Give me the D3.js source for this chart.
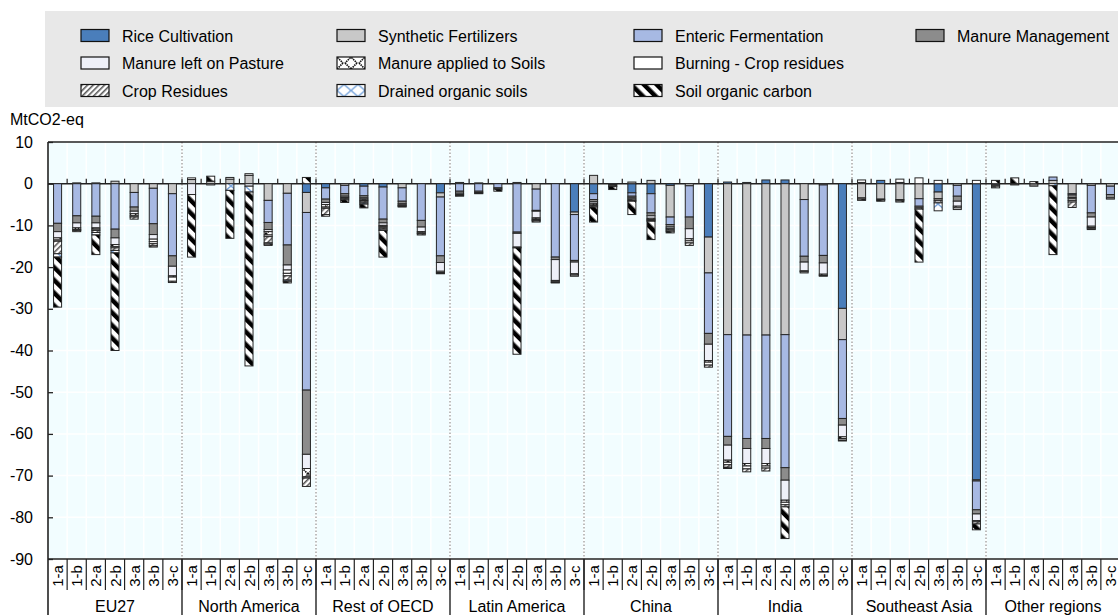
<!DOCTYPE html>
<html>
<head>
<meta charset="utf-8">
<script src="https://cdn.jsdelivr.net/npm/d3@7"></script>
<style>
  body { margin: 0; background: #fff; }
  text { font-family: "Liberation Sans", Arial, sans-serif; fill: #000; }
</style>
</head>
<body>
<svg id="chart" width="1118" height="615"></svg>
<script>
// categories
const regions = ["EU27", "North America", "Rest of OECD", "Latin America", "China", "India", "Southeast Asia", "Other regions"];
const scenarios = ["1-a", "1-b", "2-a", "2-b", "3-a", "3-b", "3-c"];
const yTicks = [10, 0, -10, -20, -30, -40, -50, -60, -70, -80, -90];

// values, MtCO2-eq, one line per region (1-a ... 3-c)
const riceCultivation = [
  0, 0, 0, 0, 0, 0, 0,
  0, 0, 0, 0, 0, 0, -2.1,
  -1.0, 0, -0.6, -0.8, 0, 0, -2.2,
  0, 0, 0, 0, 0, 0, -6.8,
  -2.4, 0, -2.2, -2.4, -0.4, 0, -12.8,
  0.4, 0.3, 0.9, 0.9, 0, 0, -29.9,
  0.3, 0.8, 0.3, 0, -2.0, 0, -71.0,
  0, 0, 0, 0, 0, 0, 0
];
const syntheticFertilizers = [
  0, 0.2, 0.2, 0.6, -2.1, -1.1, -2.4,
  1.0, 0.6, 1.1, 2.0, -4.0, -2.3, -4.8,
  0, -0.4, 0, 0, -1.0, 0, -1.0,
  0.3, 0.2, 0, 0.3, -1.3, 0, -0.6,
  2.0, 0, 0.4, 0.8, -7.6, -0.5, -8.6,
  -36.2, -36.3, -36.3, -36.2, -3.8, -0.3, -7.5,
  -3.4, -3.7, -3.8, -3.6, -1.6, -0.4, -0.3,
  0, 0, 0, 0.8, -2.4, -0.4, -0.6
];
const entericFermentation = [
  -9.5, -7.7, -7.8, -10.9, -3.5, -8.5, -14.9,
  0, 0, 0, 0, -5.3, -12.4, -42.6,
  -2.7, -2.0, -2.3, -7.7, -3.2, -8.8, -14.1,
  -1.8, -1.8, -1.0, -11.6, -5.1, -17.6, -11.0,
  -1.4, -0.2, -0.8, -4.6, -1.8, -7.5, -14.5,
  -24.4, -24.8, -24.8, -31.9, -13.6, -16.9, -18.9,
  0, 0, 0, -1.8, 0, -2.6, -6.9,
  -0.3, 0, 0, 0.8, -0.3, -6.6, -2.0
];
const manureManagement = [
  -2.0, -1.7, -1.6, -2.1, -1.0, -2.6, -2.5,
  0, 0, 0, 0, -1.7, -4.8, -15.4,
  -0.8, -0.6, -0.5, -0.9, -0.6, -1.6, -1.6,
  -0.5, -0.3, -0.3, -0.3, -0.2, -0.6, -0.4,
  -0.5, -0.3, -0.4, -0.7, -0.6, -2.8, -2.6,
  -2.1, -2.4, -2.4, -3.0, -1.4, -1.8, -1.6,
  0, 0, 0, -0.4, -0.5, -1.2, -1.0,
  -0.3, -0.3, -0.6, 0, -0.6, -1.0, -0.8
];
const manurePasture = [
  -1.5, -1.2, -1.2, -1.6, -0.6, -1.1, -2.3,
  -2.6, -0.3, 0, -0.6, -0.5, -1.2, -3.4,
  -0.5, -0.3, -0.3, -0.6, -0.3, -1.1, -2.1,
  -0.3, -0.2, 0, -3.3, -1.6, -5.0, -2.8,
  -0.4, 0, -0.3, -0.6, -0.4, -2.4, -3.9,
  -3.6, -3.6, -3.6, -4.8, -2.1, -2.7, -2.8,
  0, 0, 0, 0, 0, -1.2, -1.6,
  0, 0, 0, 0, -0.3, -2.2, -0.3
];
const manureSoils = [
  -0.5, -0.4, -0.3, -0.5, -0.5, -0.6, -0.3,
  0, 0, 0, 0, -0.8, -0.8, -2.0,
  -0.6, -0.3, -0.3, -0.3, -0.2, -0.3, -0.3,
  -0.2, -0.1, 0, -0.2, -0.3, -0.3, -0.3,
  -0.4, -0.2, -0.3, -0.3, -0.3, -0.5, -0.4,
  -0.5, -0.6, -0.6, -0.5, -0.2, -0.3, -0.4,
  -0.3, -0.2, -0.3, -0.3, -0.5, -0.4, -0.3,
  -0.4, 0, 0, 0, -0.4, -0.3, 0
];
const burningResidues = [
  -0.3, -0.2, -0.3, -0.3, -0.3, -0.5, -1.0,
  0.4, 0, 0.4, 0.4, -0.4, -0.6, -0.3,
  -0.3, 0, -0.2, -0.3, -0.1, -0.2, -0.2,
  0, 0, 0, 0, -0.2, -0.2, -0.3,
  -0.2, 0, -0.2, -0.2, -0.3, -0.5, -0.7,
  -0.6, -0.7, -0.5, -0.6, -0.3, -0.2, -0.4,
  0.6, 0, 0.8, 1.4, 0.8, -0.4, 0.8,
  0, 0, 0, 0, -0.4, -0.3, 0
];
const cropResidues = [
  -3.0, -0.3, -0.5, -0.6, -0.5, -0.5, -0.3,
  0, 0, 0, 0, -1.5, -1.0, -2.0,
  -1.5, -0.3, -0.4, -0.3, -0.2, -0.3, -0.1,
  0, 0, 0, 0, -0.2, 0, 0,
  -0.3, 0, 0, -0.2, 0, -0.6, -0.5,
  -0.6, -0.7, -0.7, -0.5, 0, 0, -0.2,
  0, 0, 0, 0, 0, 0, -0.5,
  0, 0, 0, 0, -1.3, -0.2, 0
];
const drainedSoils = [
  -0.8, 0, -0.6, -0.6, 0, 0, 0,
  0, 0, -1.6, -1.4, -0.3, -0.3, 0,
  0, 0, -0.3, -0.3, 0, 0, 0,
  0, 0, 0, 0, 0, 0, 0,
  0, 0, 0, 0, 0, 0, 0,
  0, 0, 0, 0, 0, 0, 0,
  0, 0, 0, 0, -1.9, 0, 0,
  0, 0, 0, -0.5, 0, 0, 0
];
const soilCarbon = [
  -12.0, 0, -4.7, -23.4, 0, -0.3, 0,
  -15.0, 1.2, -11.5, -41.7, -0.3, -0.4, 1.5,
  -0.4, -0.6, -0.9, -6.4, 0, 0, 0,
  -0.2, 0, -0.5, -25.5, -0.3, -0.1, 0,
  -3.6, -0.7, -3.2, -4.4, -0.4, 0, 0,
  -0.3, 0, 0, -7.6, 0, 0, 0,
  -0.3, -0.3, -0.3, -12.7, 0, 0, -1.4,
  0.8, 1.4, 0.5, -16.5, 0, 0, 0
];

const series = [
  { key: "rice", label: "Rice Cultivation", values: riceCultivation, fill: "#4a7ebb" },
  { key: "synth", label: "Synthetic Fertilizers", values: syntheticFertilizers, fill: "#c8c8c8" },
  { key: "enteric", label: "Enteric Fermentation", values: entericFermentation, fill: "#a7b9e3" },
  { key: "mm", label: "Manure Management", values: manureManagement, fill: "#8c8c8c" },
  { key: "pasture", label: "Manure left on Pasture", values: manurePasture, fill: "#eef0f8" },
  { key: "msoils", label: "Manure applied to Soils", values: manureSoils, fill: "url(#pCross)" },
  { key: "burn", label: "Burning - Crop residues", values: burningResidues, fill: "#ffffff" },
  { key: "crop", label: "Crop Residues", values: cropResidues, fill: "url(#pHatch)" },
  { key: "drained", label: "Drained organic soils", values: drainedSoils, fill: "url(#pDrained)" },
  { key: "soc", label: "Soil organic carbon", values: soilCarbon, fill: "url(#pSoc)" }
];

const svg = d3.select("#chart");
const plotL = 48, plotR = 1120, plotT = 142, plotB = 559;

// patterns
const defs = svg.append("defs");
const cross = defs.append("pattern").attr("id", "pCross").attr("patternUnits", "userSpaceOnUse")
  .attr("width", 14).attr("height", 12).attr("x", 7);
cross.append("rect").attr("width", 14).attr("height", 12).attr("fill", "#fff");
cross.append("path").attr("d", "M1,0L13,12M13,0L1,12").attr("stroke", "#111").attr("stroke-width", 1.6)
  .attr("stroke-dasharray", "1.5,0.8");

const hatch = defs.append("pattern").attr("id", "pHatch").attr("patternUnits", "userSpaceOnUse")
  .attr("width", 4).attr("height", 4).attr("patternTransform", "rotate(45)");
hatch.append("rect").attr("width", 4).attr("height", 4).attr("fill", "#fff");
hatch.append("line").attr("x1", 0.8).attr("x2", 0.8).attr("y1", 0).attr("y2", 4)
  .attr("stroke", "#444").attr("stroke-width", 1.4);

const drained = defs.append("pattern").attr("id", "pDrained").attr("patternUnits", "userSpaceOnUse")
  .attr("width", 14).attr("height", 12);
drained.append("rect").attr("width", 14).attr("height", 12).attr("fill", "#fff");
drained.append("path").attr("d", "M0,0L14,12M14,0L0,12").attr("stroke", "#7aa6dc").attr("stroke-width", 1.4);

const soc = defs.append("pattern").attr("id", "pSoc").attr("patternUnits", "userSpaceOnUse")
  .attr("width", 9).attr("height", 9).attr("patternTransform", "rotate(-45)");
soc.append("rect").attr("width", 9).attr("height", 9).attr("fill", "#fff");
soc.append("rect").attr("width", 4.5).attr("height", 9).attr("fill", "#000");

// legend: column / row slot of each series
svg.append("rect").attr("x", 45).attr("y", 11).attr("width", 1080).attr("height", 96).attr("fill", "#e8e8e8");
const colX = [81, 337, 634, 916];
const rowY = [35.5, 63, 90.5];
const legendSlots = [[0, 0], [1, 0], [2, 0], [3, 0], [0, 1], [1, 1], [2, 1], [0, 2], [1, 2], [2, 2]];
const leg = svg.append("g").selectAll("g").data(series).join("g")
  .attr("transform", (d, i) => `translate(${colX[legendSlots[i][0]]},${rowY[legendSlots[i][1]]})`);
leg.append("rect").attr("x", 0).attr("y", -6).attr("width", 28).attr("height", 12)
  .attr("fill", d => d.fill).attr("stroke", "#111").attr("stroke-width", 1.2);
leg.append("text").attr("x", 41).attr("y", 6).style("font-size", "16px").text(d => d.label);

// scales
const keys = [];
regions.forEach(r => scenarios.forEach(s => keys.push(r + "|" + s)));
const x = d3.scaleBand().domain(keys).range([plotL, plotR]).paddingInner(0.58).paddingOuter(0.29);
const step = x.step();
const y = d3.scaleLinear().domain([-90, 10]).range([plotB, plotT]);

// plot background and grid
svg.append("rect").attr("x", plotL).attr("y", plotT).attr("width", plotR - plotL).attr("height", plotB - plotT)
  .attr("fill", "#f2fdff");
svg.append("g").selectAll("line").data(yTicks).join("line")
  .attr("x1", plotL).attr("x2", plotR).attr("y1", d => y(d)).attr("y2", d => y(d))
  .attr("stroke", "#fff").attr("stroke-width", 1.5);
const bounds = d3.range(1, keys.length).map(i => plotL + i * step);
svg.append("g").selectAll("line").data(bounds).join("line")
  .attr("x1", d => d).attr("x2", d => d).attr("y1", plotT).attr("y2", plotB)
  .attr("stroke", "#fff").attr("stroke-width", 1.5);
const regionBounds = d3.range(1, regions.length).map(i => plotL + i * scenarios.length * step);
svg.append("g").selectAll("line").data(regionBounds).join("line")
  .attr("x1", d => d).attr("x2", d => d).attr("y1", plotT).attr("y2", plotB)
  .attr("stroke", "#a8a8a8").attr("stroke-width", 1.5).attr("stroke-dasharray", "1.5,2");

// zero line with small ticks
svg.append("line").attr("x1", plotL).attr("x2", plotR).attr("y1", y(0)).attr("y2", y(0))
  .attr("stroke", "#222").attr("stroke-width", 1.6);
svg.append("g").selectAll("line").data(bounds).join("line")
  .attr("x1", d => d).attr("x2", d => d).attr("y1", y(0) - 5).attr("y2", y(0))
  .attr("stroke", "#222").attr("stroke-width", 1.2);

// stacked bars
const rows = keys.map((k, i) => {
  const o = { key: k };
  series.forEach(s => { o[s.key] = s.values[i]; });
  return o;
});
const stacked = d3.stack().keys(series.map(s => s.key)).offset(d3.stackOffsetDiverging)(rows);
svg.append("g").selectAll("g").data(stacked).join("g")
  .attr("fill", (d, i) => series[i].fill)
  .selectAll("rect").data(d => d.filter(p => p[1] - p[0] !== 0)).join("rect")
  .attr("x", p => x(p.data.key))
  .attr("width", x.bandwidth())
  .attr("y", p => y(Math.max(p[0], p[1])))
  .attr("height", p => Math.abs(y(p[0]) - y(p[1])))
  .attr("stroke", "#262626").attr("stroke-width", 1);

// frame
svg.append("line").attr("x1", plotL).attr("x2", plotR).attr("y1", plotT).attr("y2", plotT)
  .attr("stroke", "#222").attr("stroke-width", 1.6);
svg.append("line").attr("x1", plotL).attr("x2", plotR).attr("y1", plotB).attr("y2", plotB)
  .attr("stroke", "#222").attr("stroke-width", 1.6);
svg.append("line").attr("x1", plotL).attr("x2", plotL).attr("y1", plotT).attr("y2", 615)
  .attr("stroke", "#222").attr("stroke-width", 1.6);

// y axis
svg.append("g").attr("transform", `translate(${plotL},0)`)
  .call(d3.axisRight(y).tickValues(yTicks).tickSize(5).tickFormat(""))
  .call(g => g.select(".domain").remove())
  .call(g => g.selectAll("line").attr("stroke", "#222").attr("stroke-width", 1.3));
svg.append("g").selectAll("text").data(yTicks).join("text")
  .attr("x", 33).attr("y", d => y(d) + 5.5).attr("text-anchor", "end")
  .style("font-size", "16px").text(d => d);
svg.append("text").attr("x", 10).attr("y", 125).style("font-size", "16px").text("MtCO2-eq");

// x axis labels
svg.append("g").selectAll("line").data(bounds).join("line")
  .attr("x1", d => d).attr("x2", d => d).attr("y1", plotB).attr("y2", 590)
  .attr("stroke", "#222").attr("stroke-width", 1.2);
svg.append("g").selectAll("line").data(regionBounds).join("line")
  .attr("x1", d => d).attr("x2", d => d).attr("y1", plotB).attr("y2", 615)
  .attr("stroke", "#222").attr("stroke-width", 1.4);
svg.append("g").selectAll("text").data(keys).join("text")
  .attr("transform", k => `translate(${x(k) + x.bandwidth() / 2 + 5.5},576) rotate(-90)`)
  .attr("text-anchor", "middle").style("font-size", "15px")
  .text(k => k.split("|")[1]);
svg.append("g").selectAll("text").data(regions).join("text")
  .attr("x", (r, i) => plotL + (i + 0.5) * scenarios.length * step)
  .attr("y", 612).attr("text-anchor", "middle").style("font-size", "16px")
  .text(r => r);
</script>
</body>
</html>
